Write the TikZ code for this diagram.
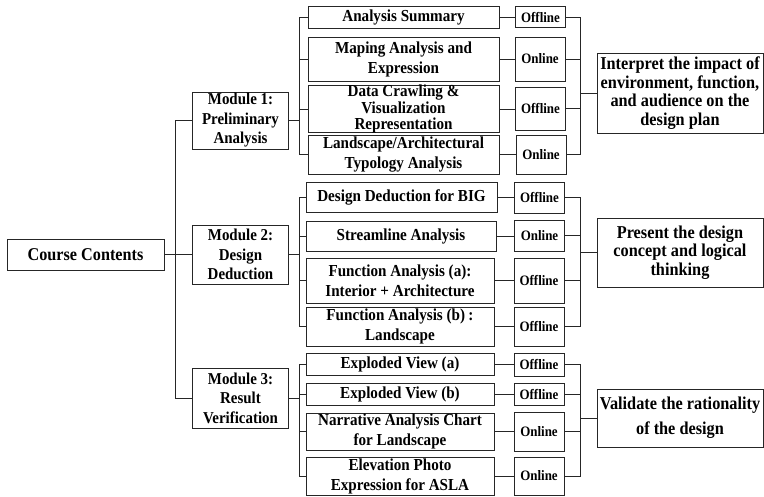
\documentclass[tikz,border=0pt]{standalone}
\usepackage{fontspec}
\setmainfont{Liberation Serif}[FakeStretch=0.9]
\begin{document}
\begin{tikzpicture}[x=1pt,y=-1pt,line width=0.8pt,draw=black!85,
  box/.style={draw=black!85,align=center,inner sep=0pt},
  rootbox/.style={box,font=\bfseries\fontsize{18}{20}\selectfont},
  modbox/.style={box,minimum width=96,font=\bfseries\fontsize{16.6}{19.5}\selectfont},
  leafbox/.style={box,font=\bfseries\fontsize{16.8}{20}\selectfont},
  modebox/.style={box,minimum width=50,font=\bfseries\fontsize{14.4}{16}\selectfont},
  aimbox/.style={box,minimum width=166,font=\bfseries\fontsize{18.1}{18.5}\selectfont}]
\useasboundingbox (0,0) rectangle (764,496);
\node[rootbox,minimum width=157,minimum height=31] (root) at (85.5,254.5) {Course Contents};
\node[modbox,minimum height=57] (m1) at (240.5,120.5) {Module 1:\\Preliminary\\Analysis};
\node[modbox,minimum height=59] (m2) at (240.5,254.5) {Module 2:\\Design\\Deduction};
\node[modbox,minimum height=60] (m3) at (240.5,398) {Module 3:\\Result\\Verification};
\node[leafbox,minimum width=191,minimum height=22] (a1) at (403.5,17) {Analysis Summary};
\node[leafbox,minimum width=191,minimum height=44] (a2) at (403.5,59) {Maping Analysis and\\Expression};
\node[leafbox,minimum width=191,minimum height=44,font=\bfseries\fontsize{16.8}{10}\selectfont] (a3) at (403.5,109) {Data Crawling \&\\Visualization\\[3pt]Representation};
\node[leafbox,minimum width=191,minimum height=39] (a4) at (403.5,154.5) {Landscape/Architectural\\Typology Analysis};
\node[leafbox,minimum width=191,minimum height=30] (b1) at (401.5,197) {Design Deduction for BIG};
\node[leafbox,minimum width=190,minimum height=30] (b2) at (401,236) {Streamline Analysis};
\node[leafbox,minimum width=188,minimum height=45] (b3) at (400,280.5) {Function Analysis (a):\\Interior + Architecture};
\node[leafbox,minimum width=188,minimum height=39] (b4) at (400,326.5) {Function Analysis (b)\hspace{0.2em}:\\Landscape};
\node[leafbox,minimum width=188,minimum height=22] (c1) at (400,364) {Exploded View (a)};
\node[leafbox,minimum width=188,minimum height=22] (c2) at (400,394) {Exploded View (b)};
\node[leafbox,minimum width=188,minimum height=37] (c3) at (400,431.5) {Narrative Analysis Chart\\for Landscape};
\node[leafbox,minimum width=188,minimum height=38] (c4) at (400,476) {Elevation Photo\\Expression for ASLA};
\node[modebox,minimum height=21] (o1) at (540.5,17) {Offline};
\node[modebox,minimum height=44] (o2) at (540,59) {Online};
\node[modebox,minimum height=43] (o3) at (540.5,108.5) {Offline};
\node[modebox,minimum height=39] (o4) at (541,154.5) {Online};
\node[modebox,minimum height=31] (o5) at (539.5,197.5) {Offline};
\node[modebox,minimum height=31] (o6) at (539.5,235.5) {Online};
\node[modebox,minimum height=45] (o7) at (539,280.5) {Offline};
\node[modebox,minimum height=39] (o8) at (539,326.5) {Offline};
\node[modebox,minimum height=23] (o9) at (539,364.5) {Offline};
\node[modebox,minimum height=22] (o10) at (539,394) {Offline};
\node[modebox,minimum height=39] (o11) at (539,431.5) {Online};
\node[modebox,minimum height=38] (o12) at (539,476) {Online};
\node[aimbox,minimum height=80] (r1) at (680,93) {Interpret the impact of\\environment, function,\\and audience on the\\design plan};
\node[aimbox,minimum height=69] (r2) at (680,252.5) {Present the design\\concept and logical\\thinking};
\node[aimbox,minimum height=58,font=\bfseries\fontsize{18.1}{25}\selectfont] (r3) at (680,418) {Validate the rationality\\of the design};
\draw (root.east) -- (root.east -| m2.west);
\draw (root.east) -- ++(11,0) |- (m1.west);
\draw (root.east) -- ++(11,0) |- (m3.west);
\foreach \m/\a/\b/\c/\d in {m1/a1/a2/a3/a4,m2/b1/b2/b3/b4,m3/c1/c2/c3/c4}{
  \draw (\m.east) -- ++(10,0) |- (\a.west);
  \draw (\m.east) -- ++(10,0) |- (\d.west);
  \draw (\m.east) -- ++(10,0) |- (\b.west);
  \draw (\m.east) -- ++(10,0) |- (\c.west);
}
\foreach \l/\o in {a1/o1,a2/o2,a3/o3,a4/o4,b1/o5,b2/o6,b3/o7,b4/o8,c1/o9,c2/o10,c3/o11,c4/o12}
  \draw (\l.east) -- (\l.east -| \o.west);
\foreach \r/\a/\b/\c/\d in {r1/o1/o2/o3/o4,r2/o5/o6/o7/o8,r3/o9/o10/o11/o12}{
  \draw (\r.west) -- ++(-16,0) coordinate (j\r);
  \draw (\a.east) -| (j\r) |- (\d.east);
  \draw (\b.east) -- (\b.east -| j\r);
  \draw (\c.east) -- (\c.east -| j\r);
}
\end{tikzpicture}
\end{document}
